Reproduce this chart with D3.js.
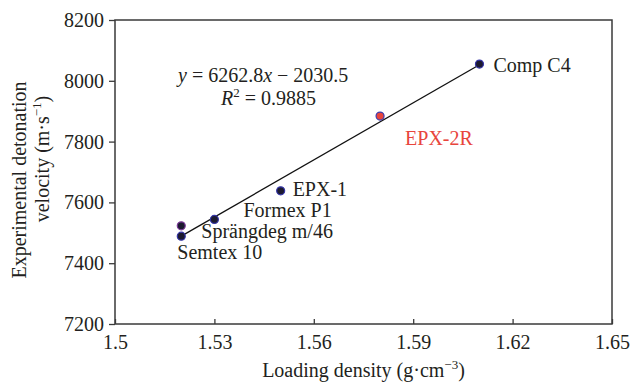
<!DOCTYPE html>
<html lang="en">
<head>
<meta charset="utf-8">
<title>Detonation velocity vs loading density</title>
<style>
  * { margin: 0; padding: 0; }
  body { background: #fff; width: 631px; height: 382px; overflow: hidden; }
  svg { display: block; font-family: "Liberation Serif", "Times New Roman", serif; fill: #231f20; }
  .tick-label { font-size: 20px; }
  .pt-label { font-size: 20px; }
  .title { font-size: 20px; }
</style>
</head>
<body>
<svg id="chart" width="631" height="382"></svg>
<script src="https://cdn.jsdelivr.net/npm/d3@7/dist/d3.min.js"></script>
<script>
// data
const names = ["Semtex 10", "Sprängdeg m/46", "Formex P1", "EPX-1", "EPX-2R", "Comp C4"];
const density = [1.52, 1.52, 1.53, 1.55, 1.58, 1.61];
const velocity = [7489, 7523, 7544, 7638, 7884, 8055];

const xTicks = [1.5, 1.53, 1.56, 1.59, 1.62, 1.65];
const yTicks = [7200, 7400, 7600, 7800, 8000, 8200];

// linear fit shown on the chart
const slope = 6262.8, intercept = -2030.5;
const fitRange = [1.52, 1.61];

// label placement (pixel offsets from each point) and point colours
const labelOffset = {
  "Semtex 10": [-4, 23], "Sprängdeg m/46": [20, 12], "Formex P1": [29, -2],
  "EPX-1": [12, 5], "EPX-2R": [25, 29], "Comp C4": [14, 8]
};
const pointStyle = {
  "Sprängdeg m/46": { fill: "#1c1a30", stroke: "#7b3a98" },
  "EPX-2R": { fill: "#e8453c", stroke: "#3d3db0" }
};
const defaultStyle = { fill: "#1c1a30", stroke: "#3535a8" };

const svg = d3.select("#chart");
const m = { left: 115, right: 612, top: 20, bottom: 324 };

const x = d3.scaleLinear().domain([1.5, 1.65]).range([m.left, m.right]);
const y = d3.scaleLinear().domain([7200, 8200]).range([m.bottom, m.top]);

const axisColor = "#3a3a3a";

// frame
svg.append("rect")
  .attr("x", m.left).attr("y", m.top)
  .attr("width", m.right - m.left).attr("height", m.bottom - m.top)
  .attr("fill", "none").attr("stroke", axisColor).attr("stroke-width", 1.5);

// y axis (ticks outward)
const yAxis = svg.append("g").attr("transform", `translate(${m.left},0)`)
  .call(d3.axisLeft(y).tickValues(yTicks).tickSize(6).tickPadding(5).tickFormat(d3.format("d")));
yAxis.select(".domain").remove();
yAxis.selectAll("line").attr("stroke", axisColor).attr("stroke-width", 1.3);
yAxis.selectAll("text").attr("class", "tick-label").attr("fill", "#231f20");
yAxis.attr("font-family", null).attr("font-size", null);

// x axis (ticks inward)
const xAxis = svg.append("g").attr("transform", `translate(0,${m.bottom})`)
  .call(d3.axisBottom(x).tickValues(xTicks).tickSizeInner(-5).tickSizeOuter(0).tickPadding(11)
    .tickFormat(d => String(d)));
xAxis.select(".domain").remove();
xAxis.selectAll("line").attr("stroke", axisColor).attr("stroke-width", 1.3);
xAxis.selectAll("text").attr("class", "tick-label").attr("fill", "#231f20");
xAxis.attr("font-family", null).attr("font-size", null);

// fit line
svg.append("line")
  .attr("x1", x(fitRange[0])).attr("y1", y(slope * fitRange[0] + intercept))
  .attr("x2", x(fitRange[1])).attr("y2", y(slope * fitRange[1] + intercept))
  .attr("stroke", "#111").attr("stroke-width", 1.3);

// points
const pts = names.map((n, i) => ({ name: n, dx: density[i], v: velocity[i] }));
svg.append("g").selectAll("circle").data(pts).join("circle")
  .attr("cx", d => x(d.dx)).attr("cy", d => y(d.v)).attr("r", 4)
  .attr("fill", d => (pointStyle[d.name] || defaultStyle).fill)
  .attr("stroke", d => (pointStyle[d.name] || defaultStyle).stroke)
  .attr("stroke-width", 1.2);

// point labels
svg.append("g").selectAll("text").data(pts).join("text")
  .attr("class", "pt-label")
  .attr("x", d => x(d.dx) + labelOffset[d.name][0])
  .attr("y", d => y(d.v) + labelOffset[d.name][1])
  .attr("fill", d => d.name === "EPX-2R" ? "#e8453c" : "#231f20")
  .text(d => d.name);

// equation
const eq = svg.append("text").attr("class", "title").attr("x", 178).attr("y", 82);
eq.append("tspan").attr("font-style", "italic").text("y");
eq.append("tspan").text(" = 6262.8");
eq.append("tspan").attr("font-style", "italic").text("x");
eq.append("tspan").text(" \u2212 2030.5");

const r2 = svg.append("text").attr("class", "title").attr("x", 221).attr("y", 105);
r2.append("tspan").attr("font-style", "italic").text("R");
r2.append("tspan").attr("font-size", "13px").attr("dy", -8).text("2");
r2.append("tspan").attr("dy", 8).text(" = 0.9885");

// x title
const xt = svg.append("text").attr("class", "title")
  .attr("x", (m.left + m.right) / 2).attr("y", 377).attr("text-anchor", "middle");
xt.append("tspan").text("Loading density (g\u00b7cm");
xt.append("tspan").attr("font-size", "13px").attr("dy", -8).text("\u22123");
xt.append("tspan").attr("dy", 8).text(")");

// y title, two lines
svg.append("text").attr("class", "title")
  .attr("transform", "translate(26,180) rotate(-90)")
  .attr("text-anchor", "middle")
  .text("Experimental detonation");
const yt2 = svg.append("text").attr("class", "title")
  .attr("transform", "translate(49,159) rotate(-90)")
  .attr("text-anchor", "middle");
yt2.append("tspan").text("velocity (m\u00b7s");
yt2.append("tspan").attr("font-size", "13px").attr("dy", -8).text("\u22121");
yt2.append("tspan").attr("dy", 8).text(")");
</script>
</body>
</html>
